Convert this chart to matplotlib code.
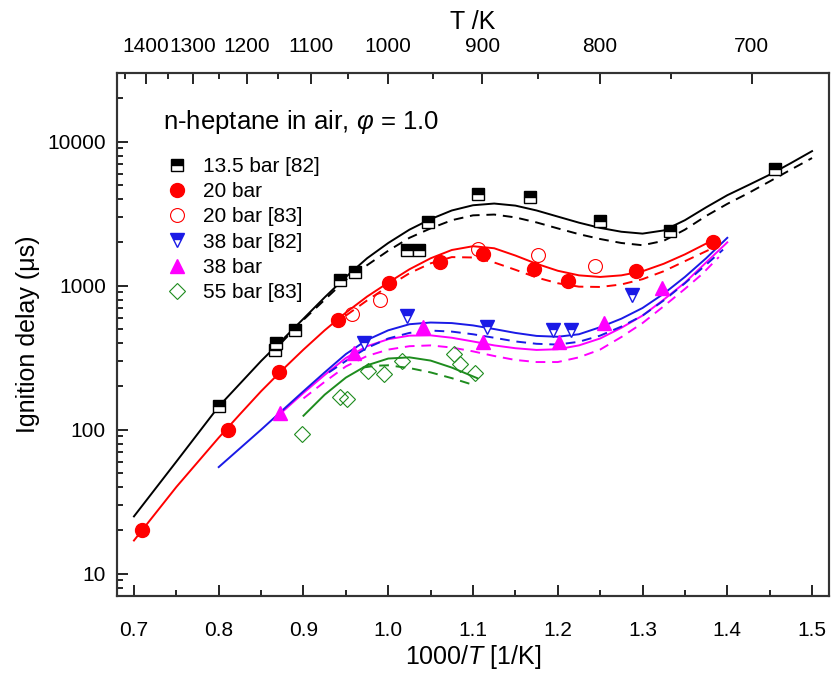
import matplotlib
matplotlib.use("Agg")
import matplotlib.pyplot as plt

plt.rcParams['font.family'] = ['Liberation Sans', 'DejaVu Sans']
plt.rcParams['mathtext.fontset'] = 'custom'
plt.rcParams['mathtext.rm'] = 'Liberation Sans'
plt.rcParams['mathtext.it'] = 'Liberation Sans:italic'

# measurements: 1000/T [1/K] and ignition delay [us]
x_135_82 = [0.800, 0.866, 0.868, 0.890, 0.943, 0.961, 1.022, 1.036, 1.047, 1.106, 1.167, 1.250, 1.332, 1.456]
y_135_82 = [145, 355, 400, 490, 1100, 1240, 1780, 1780, 2750, 4350, 4100, 2800, 2400, 6450]

x_20 = [0.710, 0.811, 0.871, 0.941, 1.001, 1.061, 1.112, 1.172, 1.212, 1.292, 1.383]
y_20 = [20, 100, 250, 575, 1045, 1470, 1660, 1300, 1085, 1260, 2000]

x_20_83 = [0.957, 0.990, 1.106, 1.177, 1.244]
y_20_83 = [640, 790, 1810, 1630, 1360]

x_38_82 = [0.971, 1.022, 1.117, 1.194, 1.216, 1.287]
y_38_82 = [400, 615, 515, 490, 490, 865]

x_38 = [0.872, 0.960, 1.041, 1.112, 1.202, 1.254, 1.323]
y_38 = [130, 340, 520, 405, 405, 550, 965]

x_55_83 = [0.898, 0.943, 0.951, 0.976, 0.995, 1.016, 1.077, 1.085, 1.102]
y_55_83 = [94, 170, 163, 255, 243, 300, 335, 285, 248]

# model curves (solid / dashed)
xs_135 = [0.70, 0.75, 0.80, 0.85, 0.875, 0.90, 0.925, 0.95, 0.975, 1.00, 1.025, 1.05, 1.075, 1.10,
          1.125, 1.15, 1.175, 1.20, 1.225, 1.25, 1.275, 1.30, 1.325, 1.35, 1.375, 1.40, 1.425,
          1.45, 1.475, 1.50]
ys_135 = [25, 60, 145, 300, 420, 590, 830, 1150, 1550, 1980, 2450, 2900, 3330, 3620,
          3720, 3600, 3330, 3020, 2740, 2520, 2370, 2300, 2420, 2850, 3500, 4250, 5000,
          5900, 7100, 8600]
xd_135 = [0.86, 0.90, 0.95, 1.00, 1.025, 1.05, 1.075, 1.10, 1.125, 1.15, 1.175, 1.20, 1.225,
          1.25, 1.275, 1.30, 1.325, 1.35, 1.375, 1.40, 1.425, 1.45, 1.475, 1.50]
yd_135 = [330, 580, 1100, 1750, 2150, 2500, 2850, 3080, 3120, 2980, 2750, 2500, 2280,
          2110, 1980, 1910, 2050, 2450, 3050, 3700, 4400, 5300, 6400, 7700]

xs_20 = [0.70, 0.75, 0.80, 0.825, 0.85, 0.875, 0.90, 0.925, 0.95, 0.975, 1.00, 1.025, 1.05,
         1.075, 1.10, 1.125, 1.15, 1.175, 1.20, 1.225, 1.25, 1.275, 1.30, 1.325, 1.35, 1.385]
ys_20 = [17, 40, 88, 128, 185, 260, 360, 490, 650, 840, 1050, 1300, 1550,
         1770, 1880, 1820, 1620, 1420, 1270, 1180, 1150, 1180, 1260, 1420, 1650, 2100]
xd_20 = [0.95, 0.975, 1.00, 1.025, 1.05, 1.075, 1.10, 1.125, 1.15, 1.175, 1.20, 1.225, 1.25,
         1.275, 1.30, 1.325, 1.35, 1.385]
yd_20 = [620, 790, 990, 1220, 1430, 1580, 1570, 1450, 1290, 1140, 1040, 985, 980,
         1020, 1110, 1260, 1480, 1850]

xs_38b = [0.80, 0.85, 0.90, 0.925, 0.95, 0.975, 1.00, 1.025, 1.05, 1.075, 1.10, 1.125, 1.15,
          1.175, 1.20, 1.225, 1.25, 1.275, 1.30, 1.325, 1.35, 1.375, 1.40]
ys_38b = [55, 100, 185, 250, 335, 420, 490, 540, 555, 550, 530, 500, 470,
          448, 442, 460, 515, 590, 700, 880, 1150, 1550, 2150]
xd_38b = [0.93, 0.95, 0.975, 1.00, 1.025, 1.05, 1.075, 1.10, 1.125, 1.15, 1.175, 1.20, 1.225,
          1.25, 1.275, 1.30, 1.325, 1.35, 1.375, 1.395]
yd_38b = [250, 300, 370, 430, 470, 488, 480, 460, 435, 410, 395, 390, 408,
          450, 520, 620, 790, 1040, 1400, 1780]

xs_38m = [0.87, 0.90, 0.925, 0.95, 0.975, 1.00, 1.025, 1.05, 1.075, 1.10, 1.125, 1.15, 1.175,
          1.20, 1.225, 1.25, 1.275, 1.30, 1.325, 1.35, 1.375, 1.40]
ys_38m = [125, 180, 240, 315, 380, 425, 450, 452, 435, 410, 385, 368, 358,
          362, 385, 430, 510, 620, 800, 1050, 1450, 2000]
xd_38m = [0.90, 0.925, 0.95, 0.975, 1.00, 1.025, 1.05, 1.075, 1.10, 1.125, 1.15, 1.175, 1.20,
          1.225, 1.25, 1.275, 1.30, 1.325, 1.35, 1.37, 1.39]
yd_38m = [165, 215, 275, 325, 360, 380, 385, 372, 350, 325, 305, 295, 295,
          318, 360, 440, 550, 720, 950, 1200, 1580]

xs_55 = [0.90, 0.925, 0.95, 0.975, 1.00, 1.025, 1.05, 1.075, 1.105]
ys_55 = [125, 175, 230, 280, 312, 318, 302, 270, 228]
xd_55 = [0.97, 0.985, 1.00, 1.025, 1.05, 1.075, 1.10]
yd_55 = [270, 278, 280, 268, 250, 228, 205]

top_T = [1400, 1300, 1200, 1100, 1000, 900, 800, 700]
top_T_minor = [1450, 1350, 1250, 1150, 1050, 950, 850, 750]

BLACK, RED, BLUE, MAG, GREEN = 'black', '#ff0000', '#1a1ae6', '#ff00ff', '#1e8c1e'

fig = plt.figure(figsize=(8.32, 6.73), dpi=100)
ax = fig.add_axes([117 / 832, 1 - 596 / 673, 712 / 832, 523 / 673])

lw = 1.4
dash = (5, 3.5)
ax.plot(xs_135, ys_135, color=BLACK, lw=lw)
ax.plot(xd_135, yd_135, color=BLACK, lw=lw, dashes=dash)
ax.plot(xs_20, ys_20, color=RED, lw=lw)
ax.plot(xd_20, yd_20, color=RED, lw=lw, dashes=dash)
ax.plot(xs_38m, ys_38m, color=MAG, lw=lw)
ax.plot(xd_38m, yd_38m, color=MAG, lw=lw, dashes=dash)
ax.plot(xs_38b, ys_38b, color=BLUE, lw=lw)
ax.plot(xd_38b, yd_38b, color=BLUE, lw=lw, dashes=dash)
ax.plot(xs_55, ys_55, color=GREEN, lw=lw)
ax.plot(xd_55, yd_55, color=GREEN, lw=lw, dashes=dash)

ax.plot(x_135_82, y_135_82, 's', ms=8, fillstyle='top', mfc=BLACK, mfcalt='white',
        mec=BLACK, mew=1.0, ls='none', label='13.5 bar [82]')
ax.plot(x_20, y_20, 'o', ms=10, color=RED, ls='none', label='20 bar')
ax.plot(x_20_83, y_20_83, 'o', ms=10, mfc='none', mec=RED, mew=0.8, ls='none', label='20 bar [83]')
ax.plot(x_38_82, y_38_82, 'v', ms=10, fillstyle='top', mfc=BLUE, mfcalt='white',
        mec=BLUE, mew=1.0, ls='none', label='38 bar [82]')
ax.plot(x_38, y_38, '^', ms=10, color=MAG, ls='none', label='38 bar')
ax.plot(x_55_83, y_55_83, 'D', ms=8, mfc='none', mec=GREEN, mew=0.8, ls='none', label='55 bar [83]')

ax.set_yscale('log')
ax.set_xlim(0.68, 1.52)
ax.set_ylim(7, 30000)
ax.set_xticks([0.7, 0.8, 0.9, 1.0, 1.1, 1.2, 1.3, 1.4, 1.5])
ax.set_xticks([0.75, 0.85, 0.95, 1.05, 1.15, 1.25, 1.35, 1.45], minor=True)
ax.set_xticklabels(['0.7', '0.8', '0.9', '1.0', '1.1', '1.2', '1.3', '1.4', '1.5'])
ax.set_yticks([10, 100, 1000, 10000], labels=['10', '100', '1000', '10000'])
ax.tick_params(which='both', direction='in', top=False, right=False, labelsize=15, width=1.2, pad=8)
ax.tick_params(axis='x', which='both', pad=18)
ax.tick_params(which='major', length=8)
ax.tick_params(which='minor', length=4)
for s in ax.spines.values():
    s.set_linewidth(1.5)
    s.set_color('#333333')

ax.set_xlabel('1000/$T$ [1/K]', fontsize=18, labelpad=2)
ax.set_ylabel('Ignition delay (μs)', fontsize=18, labelpad=5)

ax2 = ax.twiny()
ax2.set_xlim(ax.get_xlim())
ax2.set_xticks([1000 / t for t in top_T], labels=[str(t) for t in top_T])
ax2.set_xticks([1000 / t for t in top_T_minor], minor=True)
ax2.tick_params(which='both', direction='in', labelsize=15, width=1.2, pad=12)
ax2.tick_params(which='major', length=8)
ax2.tick_params(which='minor', length=4)
ax2.set_xlabel('T /K', fontsize=18, labelpad=6)
for s in ax2.spines.values():
    s.set_linewidth(1.5)
    s.set_color('#333333')

ax.text(0.065, 0.906, 'n-heptane in air, $\\varphi$ = 1.0', transform=ax.transAxes,
        fontsize=18.5, va='center', ha='left')
ax.legend(loc='upper left', bbox_to_anchor=(0.069, 0.8395), frameon=False, fontsize=15,
          handlelength=1.0, handletextpad=0.77, labelspacing=0.3, borderaxespad=0,
          borderpad=0, numpoints=1)

fig.savefig('out.png', dpi=100)
